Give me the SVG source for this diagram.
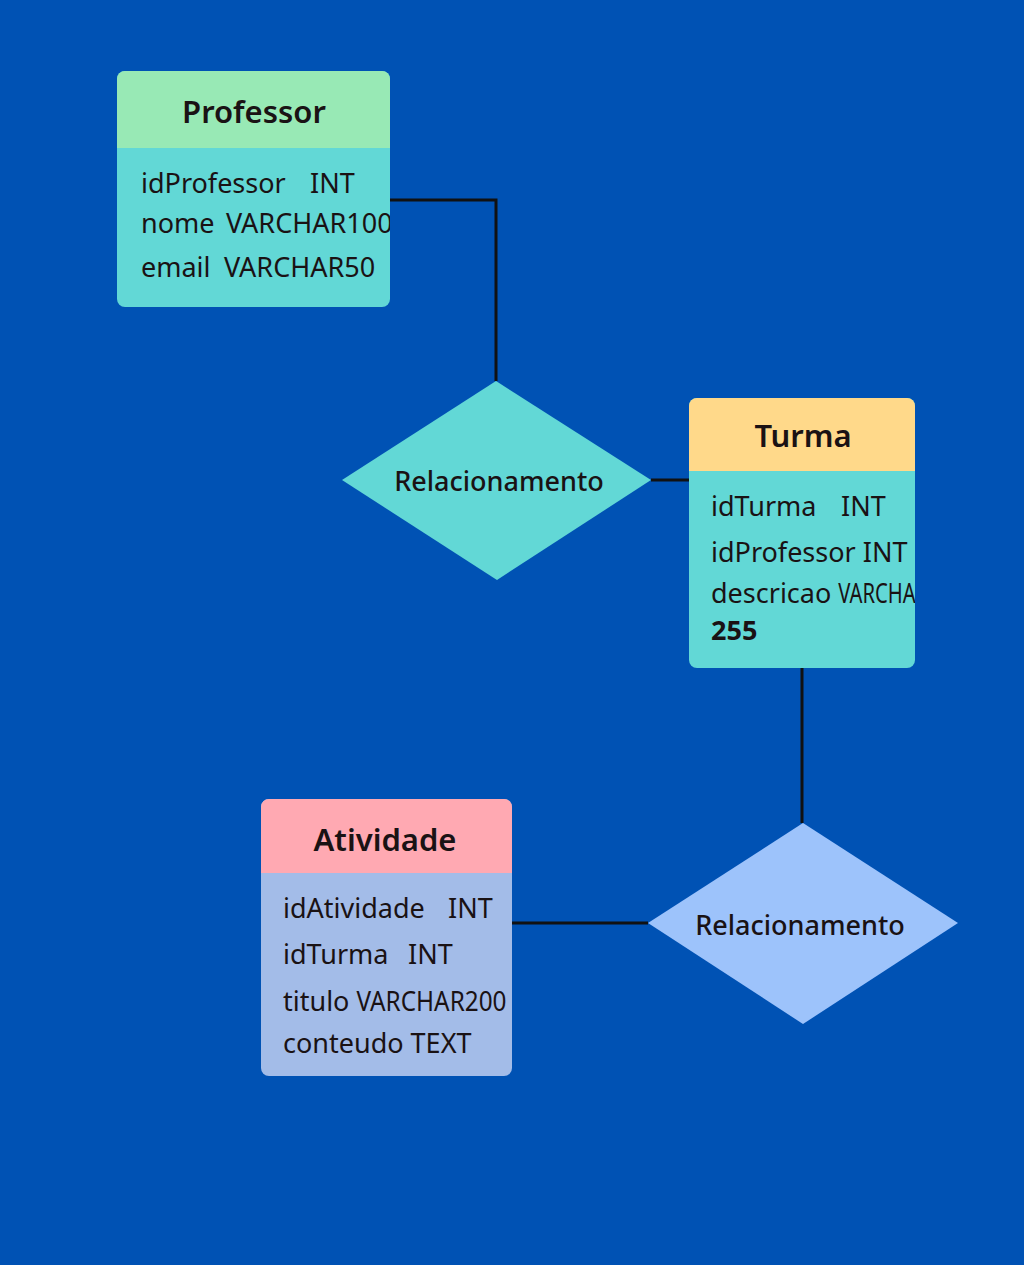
<svg xmlns="http://www.w3.org/2000/svg" width="1024" height="1265" viewBox="0 0 1024 1265">
<defs>
<style>
.title{font-family:"Noto Sans","DejaVu Sans",sans-serif;font-size:31px;font-weight:600;fill:#1a1214;text-anchor:middle}
.attr{font-family:"Noto Sans","DejaVu Sans",sans-serif;font-size:27px;fill:#1a1214}
.rel{font-family:"Noto Sans","DejaVu Sans",sans-serif;font-size:27px;font-weight:500;fill:#1a1214;text-anchor:middle}
.conn{stroke:#111;stroke-width:3;fill:none}
</style>
<clipPath id="cpProf"><rect x="117" y="71" width="273" height="236" rx="8"/></clipPath>
<clipPath id="cpTurma"><rect x="689" y="398" width="226" height="270" rx="8"/></clipPath>
<clipPath id="cpAtiv"><rect x="261" y="799" width="251" height="277" rx="8"/></clipPath>
</defs>
<rect width="1024" height="1265" fill="#0052b4"/>
<g id="connectors">
<polyline class="conn" points="390,200 496,200 496,381"/>
<line class="conn" x1="651" y1="480" x2="689" y2="480"/>
<line class="conn" x1="802" y1="668" x2="802" y2="823"/>
<line class="conn" x1="512" y1="923" x2="648" y2="923"/>
</g>
<g id="professor">
<g clip-path="url(#cpProf)">
<rect x="117" y="71" width="273" height="236" fill="#62d8d6"/>
<rect x="117" y="71" width="273" height="77" fill="#98e9b5"/>
<text class="title" x="254" y="123">Professor</text>
<text class="attr" x="141" y="193">idProfessor<tspan x="310">INT</tspan></text>
<text class="attr" x="141" y="233">nome<tspan x="226">VARCHAR100</tspan></text>
<text class="attr" x="141" y="277">email<tspan x="224">VARCHAR50</tspan></text>
</g>
</g>
<g id="rel1">
<polygon points="496,381 651,480 497,580 342,480" fill="#62d8d6"/>
<text class="rel" x="499" y="491">Relacionamento</text>
</g>
<g id="turma">
<g clip-path="url(#cpTurma)">
<rect x="689" y="398" width="226" height="270" fill="#62d8d6"/>
<rect x="689" y="398" width="226" height="73" fill="#ffd98a"/>
<text class="title" x="803" y="447">Turma</text>
<text class="attr" x="711" y="516">idTurma<tspan x="841">INT</tspan></text>
<text class="attr" x="711" y="562">idProfessor INT</text>
<text class="attr" x="711" y="603">descricao <tspan textLength="90" lengthAdjust="spacingAndGlyphs">VARCHAR</tspan></text>
<text class="attr" x="711" y="640" font-weight="700">255</text>
</g>
</g>
<g id="rel2">
<polygon points="803,823 958,923 803,1024 648,923" fill="#9dc3fb"/>
<text class="rel" x="800" y="935">Relacionamento</text>
</g>
<g id="atividade">
<g clip-path="url(#cpAtiv)">
<rect x="261" y="799" width="251" height="277" fill="#a3bce8"/>
<rect x="261" y="799" width="251" height="74" fill="#ffa9b2"/>
<text class="title" x="385" y="851">Atividade</text>
<text class="attr" x="283" y="918">idAtividade<tspan x="448">INT</tspan></text>
<text class="attr" x="283" y="964">idTurma<tspan x="408">INT</tspan></text>
<text class="attr" x="283" y="1011">titulo <tspan textLength="150" lengthAdjust="spacingAndGlyphs">VARCHAR200</tspan></text>
<text class="attr" x="283" y="1053">conteudo TEXT</text>
</g>
</g>
</svg>
